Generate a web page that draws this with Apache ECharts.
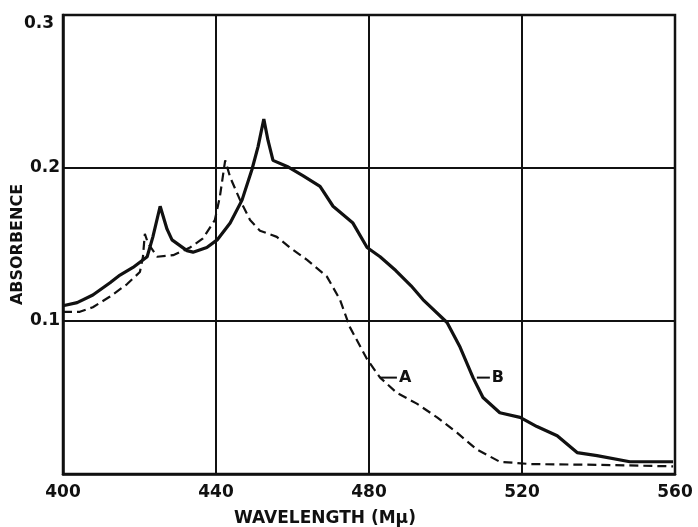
<!DOCTYPE html>
<html><head><meta charset="utf-8">
<script src="https://cdn.jsdelivr.net/npm/echarts@6/dist/echarts.min.js"></script>
<style>html,body{margin:0;padding:0;background:#fff}#c{width:698px;height:527px}</style>
</head><body><div id="c"></div>
<script>
const xTicks = [400, 440, 480, 520, 560];
const yTicks = [0.1, 0.2, 0.3];
// Curve B (solid)
const curveB = [
[400,0.110],[403.7,0.112],[407.8,0.117],[412.3,0.125],[414.9,0.130],[418.3,0.135],[422,0.142],
[423.5,0.155],[425.4,0.175],[427.2,0.160],[428.5,0.153],[432.4,0.146],[434,0.145],[437.6,0.148],
[440.3,0.153],[443.7,0.164],[446.8,0.179],[449.4,0.199],[451,0.214],[452.5,0.232],[453.6,0.218],
[454.9,0.205],[458.6,0.201],[462.7,0.195],[467.2,0.188],[470.6,0.175],[475.8,0.164],[479.5,0.148],
[482.9,0.142],[487,0.133],[491,0.123],[494.1,0.114],[500.4,0.099],[503.8,0.083],[507.2,0.063],
[509.8,0.050],[514.2,0.040],[519.5,0.037],[523.9,0.031],[529.2,0.025],[534.4,0.014],[539.6,0.012],
[548.2,0.008],[559.5,0.008]
];
// Curve A (dashed)
const curveA = [
[400,0.106],[404.4,0.106],[407.8,0.109],[412.3,0.116],[416.7,0.124],[420.1,0.132],[420.9,0.142],
[421.4,0.157],[422.2,0.151],[424.6,0.142],[428.8,0.143],[433.2,0.148],[436.6,0.154],[439.7,0.166],
[441,0.181],[442.4,0.205],[443.7,0.194],[446.3,0.179],[448.9,0.166],[451.5,0.159],[455.9,0.155],
[459.3,0.148],[463.8,0.140],[469,0.129],[472.4,0.114],[475,0.096],[479.5,0.075],[482.9,0.063],
[487.3,0.053],[492.5,0.046],[497.8,0.037],[503,0.027],[508.2,0.016],[514.2,0.008],[522.1,0.0065],
[539.6,0.006],[559.5,0.005]
];
const leaderA = [[482.9,0.063],[487.3,0.063]];
const leaderB = [[508.2,0.063],[511.6,0.063]];

const chart = echarts.init(document.getElementById('c'));
const F = '"DejaVu Sans", sans-serif';
chart.setOption({
  animation:false,
  grid:{left:63,right:23,top:15,bottom:53,containLabel:false,outerBoundsMode:'none',
    show:true,borderColor:'#111',borderWidth:2.5,backgroundColor:'transparent'},
  xAxis:{type:'value',min:400,max:560,interval:40,
    name:'WAVELENGTH (Mμ)',nameLocation:'middle',nameGap:36,nameMoveOverlap:false,
    nameTextStyle:{fontFamily:F,fontWeight:'bold',fontSize:17,color:'#111',padding:[0,88,0,0]},
    axisLine:{lineStyle:{color:'#111',width:2.5}},axisTick:{show:false},
    axisLabel:{fontFamily:F,fontWeight:'bold',fontSize:17,color:'#111',margin:10},
    splitLine:{lineStyle:{color:'#111',width:2}}},
  yAxis:{type:'value',min:0,max:0.3,interval:0.1,
    name:'ABSORBENCE',nameLocation:'middle',nameGap:37,nameRotate:90,nameMoveOverlap:false,
    nameTextStyle:{fontFamily:F,fontWeight:'bold',fontSize:16,color:'#111'},
    axisLine:{lineStyle:{color:'#111',width:2.5}},axisTick:{show:false},
    axisLabel:{fontFamily:F,fontWeight:'bold',fontSize:17,color:'#111',margin:3,
      formatter:v=>v===0?'':(Math.abs(v-0.3)<1e-9?'{t|0.3}':v.toFixed(1)),
      rich:{t:{fontFamily:F,fontWeight:'bold',fontSize:17,color:'#111',padding:[18,6,0,0]}}},
    splitLine:{lineStyle:{color:'#111',width:2}}},
  series:[
    {type:'line',name:'B',data:curveB,showSymbol:false,lineStyle:{color:'#111',width:3.2},z:3},
    {type:'line',name:'A',data:curveA,showSymbol:false,lineStyle:{color:'#111',width:2.2,type:[9,5]},z:3},
    {type:'line',name:'A',data:leaderA,showSymbol:false,lineStyle:{color:'#111',width:2},
      endLabel:{show:true,formatter:'A',fontFamily:F,fontWeight:'bold',fontSize:16,color:'#111',distance:2}},
    {type:'line',name:'B',data:leaderB,showSymbol:false,lineStyle:{color:'#111',width:2},
      endLabel:{show:true,formatter:'B',fontFamily:F,fontWeight:'bold',fontSize:16,color:'#111',distance:2}}
  ]
});
</script></body></html>
